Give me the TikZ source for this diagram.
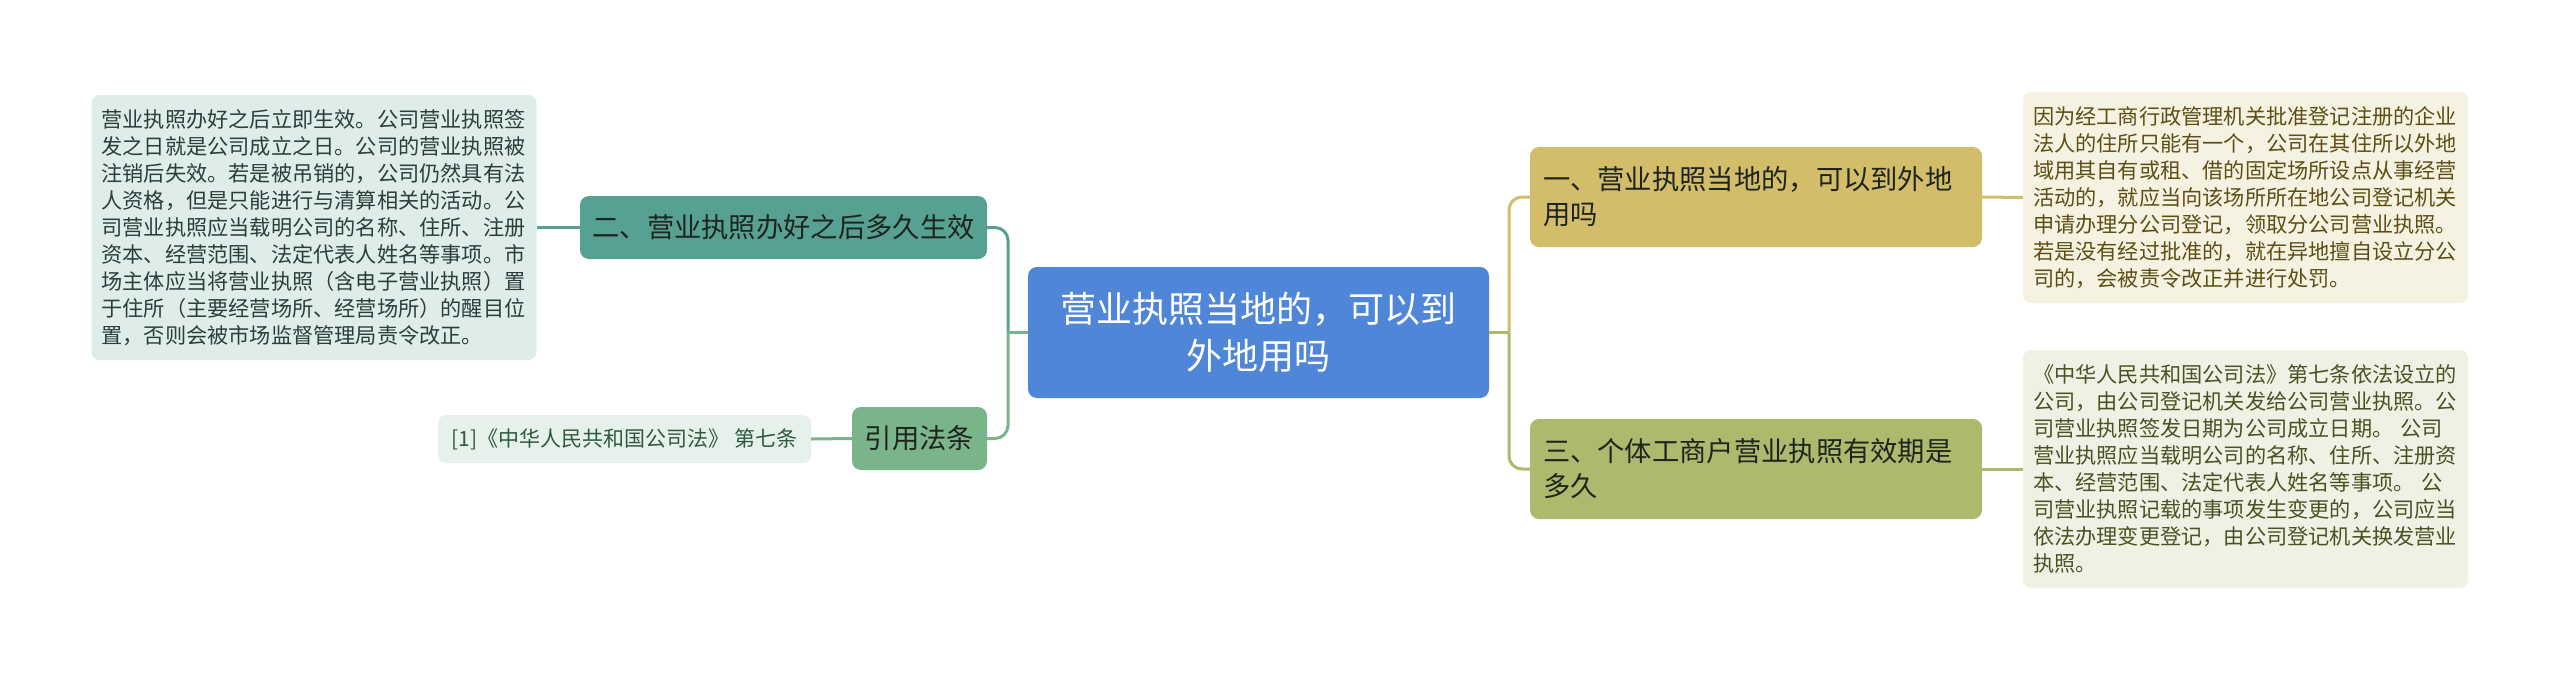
\documentclass[tikz,border=0pt]{standalone}
\usepackage{fontspec}
\setmainfont{Noto Sans CJK SC}
\definecolor{cblue}{RGB}{79,134,216}
\definecolor{cteal}{RGB}{87,161,146}
\definecolor{cgreen}{RGB}{122,180,138}
\definecolor{cgold}{RGB}{212,189,106}
\definecolor{colive}{RGB}{173,185,108}
\definecolor{fL}{RGB}{222,237,234}
\definecolor{fref}{RGB}{230,241,235}
\definecolor{fRa}{RGB}{245,242,226}
\definecolor{fRb}{RGB}{240,241,229}
\definecolor{tL}{RGB}{42,62,58}
\definecolor{tref}{RGB}{46,90,60}
\definecolor{tRa}{RGB}{94,78,20}
\definecolor{tRb}{RGB}{74,82,34}
\definecolor{tdark}{RGB}{30,36,30}
\begin{document}
\begin{tikzpicture}[x=1pt,y=-1pt,
  rootbox/.style={fill=cblue, text=white, rounded corners=9pt, inner sep=0pt,
    minimum width=461pt, minimum height=131pt, align=center,
    font=\fontsize{36}{46.5}\selectfont},
  topicbox/.style={rounded corners=9pt, inner sep=0pt, text=tdark,
    minimum height=63pt, align=center, font=\fontsize{27.3}{35}\selectfont},
  widetopic/.style={rounded corners=9pt, inner ysep=0pt, inner xsep=13pt, text=tdark,
    text width=426pt, minimum height=100pt, align=left, font=\fontsize{27.3}{35}\selectfont},
  notebox/.style={rounded corners=8pt, inner ysep=0pt, inner xsep=10pt,
    text width=425pt, align=left, font=\fontsize{21.2}{27}\selectfont},
  conn/.style={line width=3pt},
  elbow/.style={line width=3pt, rounded corners=13pt}]
\useasboundingbox (0,0) rectangle (2560,681);

% connectors
\coordinate (jL) at (1008,332.5);
\coordinate (jR) at (1509,332.5);

\node[rootbox] (c) at (1258.5,332.5) {营业执照当地的，可以到\\外地用吗};

\node[topicbox, fill=cteal, minimum width=407pt] (two) at (783.5,227.5) {二、营业执照办好之后多久生效};
\node[topicbox, fill=cgreen, minimum width=135pt] (cite) at (919.5,438.5) {引用法条};
\node[widetopic, fill=cgold] (one) at (1756,197) {一、营业执照当地的，可以到外地\\用吗};
\node[widetopic, fill=colive] (three) at (1756,469) {三、个体工商户营业执照有效期是\\多久};

\node[notebox, fill=fL, text=tL, minimum height=265pt] (L1) at (314,227.5)
 {营业执照办好之后立即生效。公司营业执照签\\
  发之日就是公司成立之日。公司的营业执照被\\
  注销后失效。若是被吊销的，公司仍然具有法\\
  人资格，但是只能进行与清算相关的活动。公\\
  司营业执照应当载明公司的名称、住所、注册\\
  资本、经营范围、法定代表人姓名等事项。市\\
  场主体应当将营业执照（含电子营业执照）置\\
  于住所（主要经营场所、经营场所）的醒目位\\
  置，否则会被市场监督管理局责令改正。};

\node[rounded corners=8pt, fill=fref, text=tref, inner sep=0pt, minimum width=373pt,
  minimum height=48pt, font=\fontsize{21}{27}\selectfont] (ref) at (624.5,439)
 {[1]《中华人民共和国公司法》 第七条};

\node[notebox, fill=fRa, text=tRa, minimum height=211pt] (R1) at (2245.5,197.5)
 {因为经工商行政管理机关批准登记注册的企业\\
  法人的住所只能有一个，公司在其住所以外地\\
  域用其自有或租、借的固定场所设点从事经营\\
  活动的，就应当向该场所所在地公司登记机关\\
  申请办理分公司登记，领取分公司营业执照。\\
  若是没有经过批准的，就在异地擅自设立分公\\
  司的，会被责令改正并进行处罚。};

\node[notebox, fill=fRb, text=tRb, minimum height=238pt] (R2) at (2245.5,469)
 {《中华人民共和国公司法》第七条依法设立的\\
  公司，由公司登记机关发给公司营业执照。公\\
  司营业执照签发日期为公司成立日期。 公司\\
  营业执照应当载明公司的名称、住所、注册资\\
  本、经营范围、法定代表人姓名等事项。 公\\
  司营业执照记载的事项发生变更的，公司应当\\
  依法办理变更登记，由公司登记机关换发营业\\
  执照。};

\draw[conn, cteal] (c.west) -- (jL);
\draw[elbow, cteal] (jL) |- (two.east);
\draw[conn, cgreen] (c.west) -- (jL);
\draw[elbow, cgreen] (jL) |- (cite.east);

\draw[conn, cgold] (c.east) -- (jR);
\draw[elbow, cgold] (jR) |- (one.west);
\draw[conn, colive] (c.east) -- (jR);
\draw[elbow, colive] (jR) |- (three.west);

\draw[conn, cteal] (two.west) -- (L1.east);
\draw[conn, cgreen] (cite.west) -- (ref.east);
\draw[conn, cgold] (one.east) -- (R1.west);
\draw[conn, colive] (three.east) -- (R2.west);
\end{tikzpicture}
\end{document}
